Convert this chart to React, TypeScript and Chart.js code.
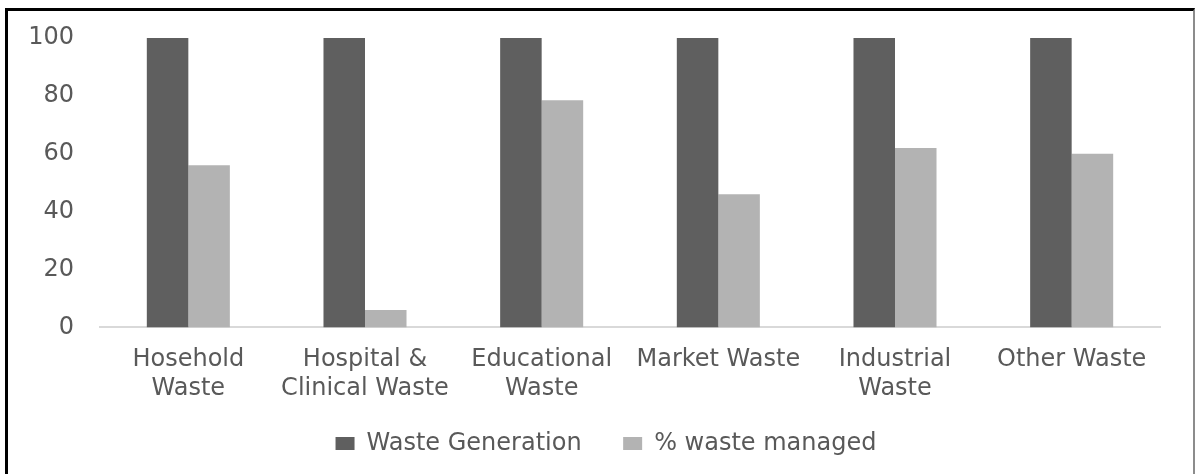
import React, { useEffect, useRef } from "react";
import { Chart, registerables } from "chart.js";

Chart.register(...registerables);

const categories: (string | string[])[] = [
  ["Hosehold", "Waste"],
  ["Hospital &", "Clinical Waste"],
  ["Educational", "Waste"],
  "Market Waste",
  ["Industrial", "Waste"],
  "Other Waste",
];
const wasteGeneration = [100, 100, 100, 100, 100, 100];
const wasteManaged = [56, 6, 78.5, 46, 62, 60];
const seriesNames = ["Waste Generation", "% waste managed"];
const yMin = 0;
const yMax = 100;
const yStep = 20;

const FONT = "'DejaVu Sans', sans-serif";
const TEXT = "#595959";

const shiftLegend = {
  id: "shiftLegend",
  afterLayout(chart: any) {
    if (chart.legend) chart.legend.left += 52;
  },
};

export default function App() {
  const ref = useRef<HTMLCanvasElement | null>(null);

  useEffect(() => {
    if (!ref.current) return;
    const chart = new Chart(ref.current, {
      type: "bar",
      data: {
        labels: categories,
        datasets: [
          {
            label: seriesNames[0] + "    ",
            data: wasteGeneration,
            backgroundColor: "#5f5f5f",
            borderWidth: 0,
            categoryPercentage: 0.47,
            barPercentage: 1,
          },
          {
            label: seriesNames[1],
            data: wasteManaged,
            backgroundColor: "#b3b3b3",
            borderWidth: 0,
            categoryPercentage: 0.47,
            barPercentage: 1,
          },
        ],
      },
      plugins: [shiftLegend],
      options: {
        responsive: false,
        animation: false,
        layout: { padding: { left: 0, right: 35, top: 38, bottom: 8.5 } },
        plugins: {
          legend: {
            position: "bottom",
            labels: {
              boxWidth: 19,
              boxHeight: 13,
              padding: 11,
              color: TEXT,
              font: { family: FONT, size: 24 },
            },
          },
          tooltip: { enabled: false },
        },
        scales: {
          x: {
            grid: { display: false, drawTicks: false },
            border: { display: true, color: "#d9d9d9", width: 2 },
            ticks: {
              color: TEXT,
              font: { family: FONT, size: 24, lineHeight: 1.21 },
              padding: 17.5,
              maxRotation: 0,
              minRotation: 0,
              autoSkip: false,
            },
          },
          y: {
            min: yMin,
            max: yMax,
            grid: { display: false, drawTicks: false },
            border: { display: false },
            ticks: {
              stepSize: yStep,
              color: TEXT,
              font: { family: FONT, size: 24 },
              padding: 26,
            },
            afterFit: (scale: any) => {
              scale.width = 100;
              scale.paddingTop = 0;
              scale.paddingBottom = 0;
            },
          },
        },
      },
    });
    return () => chart.destroy();
  }, []);

  return (
    <div style={{ position: "fixed", left: 0, top: 0, width: 1195, height: 474, background: "#fff", overflow: "hidden" }}>
      <div
        style={{
          position: "absolute",
          left: 5,
          top: 8,
          width: 1190,
          height: 500,
          boxSizing: "border-box",
          borderLeft: "3px solid #000",
          borderTop: "3px solid #000",
          borderRight: "2px solid #8c8c8c",
        }}
      />
      <canvas ref={ref} width={1195} height={474} style={{ position: "absolute", left: 0, top: 0, width: 1195, height: 474 }} />
    </div>
  );
}
